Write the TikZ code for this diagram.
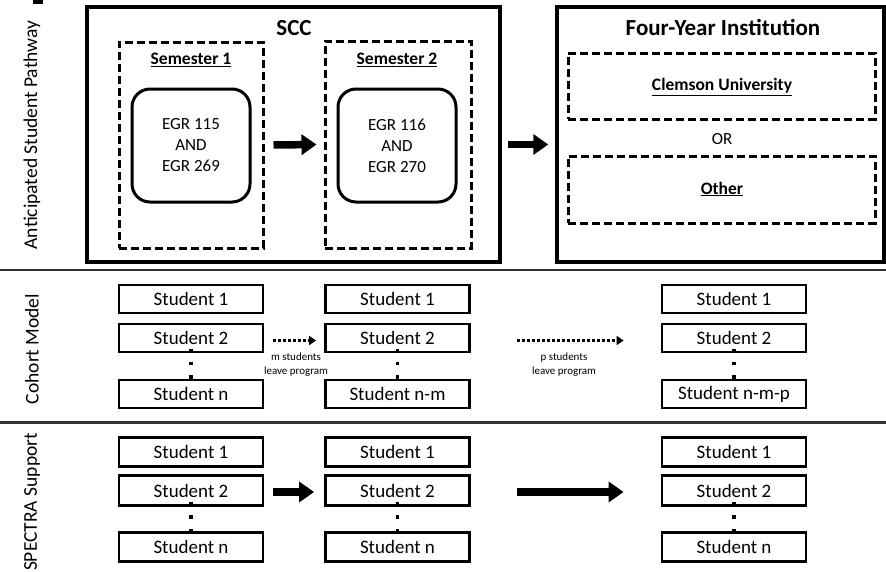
\documentclass[tikz,border=0pt]{standalone}
\usepackage{fontspec}
\setmainfont{Carlito}
\usetikzlibrary{arrows.meta,calc}
\newcommand{\sqdots}{\vbox{\hbox{\rule{3.2pt}{3.2pt}}\vskip1.4pt\hbox{\rule{3.2pt}{3.2pt}}\vskip1.4pt\hbox{\rule{3.2pt}{3.2pt}}}}
\begin{document}
\begin{tikzpicture}[x=1pt,y=-1pt,
  outerbox/.style={draw, line width=3.5pt, inner sep=0pt},
  dashbox/.style={draw, line width=3pt, dash pattern=on 8pt off 4pt, inner sep=0pt},
  roundbox/.style={draw, line width=3pt, rounded corners=18pt, inner sep=0pt, align=center,
    font=\fontsize{17}{21}\selectfont},
  titlefont/.style={font=\fontsize{23}{27}\selectfont\bfseries, inner sep=0pt},
  subfont/.style={font=\fontsize{17.5}{21}\selectfont\bfseries, inner sep=0pt},
  plainfont/.style={font=\fontsize{17}{21}\selectfont, inner sep=0pt},
  rowlabel/.style={font=\fontsize{19.5}{23}\selectfont, rotate=90, inner sep=0pt},
  stud/.style={draw, line width=2.8pt, minimum width=144pt, minimum height=28pt, inner sep=0pt,
    font=\fontsize{19}{23}\selectfont},
  studb/.style={stud, minimum height=29.5pt},
  vdot/.style={inner sep=0pt},
  smalllab/.style={font=\fontsize{11}{14}\selectfont, align=center, inner sep=0pt},
  bigarrow/.style={line width=7.5pt, -{Triangle[length=15pt,width=20pt]}},
  dotarrow/.style={line width=3pt, dash pattern=on 3pt off 2pt, -{Triangle[length=7pt,width=9pt]}},
  sepline/.style={line width=2.2pt, draw=black!80}
]
\useasboundingbox (0,0) rectangle (886,571);
\fill (33,0) rectangle (43,3.5);

% row labels
\node[rowlabel] (l1) at (32,135) {Anticipated Student Pathway};
\node[rowlabel] (l2) at (32,349) {Cohort Model};
\node[rowlabel] (l3) at (32,502) {SPECTRA Support};

% separators
\draw[sepline] (0,270) -- (886,270);
\draw[sepline] (0,422.5) -- (886,422.5);

% SCC
\node[outerbox, minimum width=413pt, minimum height=255pt] (scc) at (293.5,134.5) {};
\node[titlefont] (scct) at (294,28) {SCC};
\node[dashbox, minimum width=144pt, minimum height=206pt] (sem1) at (191,145) {};
\node[subfont] (sem1t) at (191,60) {\underline{Semester 1}};
\node[roundbox, minimum width=118pt, minimum height=113pt] (c1) at (191,145.5) {EGR 115\\AND\\EGR 269};
\node[dashbox, minimum width=146pt, minimum height=207pt] (sem2) at (398,144.5) {};
\node[subfont] (sem2t) at (397,60) {\underline{Semester 2}};
\node[roundbox, minimum width=118pt, minimum height=113pt] (c2) at (397,145.5) {EGR 116\\AND\\EGR 270};

% Four-year
\node[outerbox, minimum width=327pt, minimum height=255pt] (four) at (720.5,134.5) {};
\node[titlefont] (fourt) at (723,27) {Four-Year Institution};
\node[dashbox, minimum width=307pt, minimum height=66pt] (clem) at (721.5,86) {};
\node[subfont] (clemt) at (722,87) {\underline{Clemson University}};
\node[plainfont] (or) at (722,139) {OR};
\node[dashbox, minimum width=307pt, minimum height=67pt] (oth) at (721.5,189.5) {};
\node[subfont] (otht) at (722,189) {\underline{Other}};

% pathway arrows
\draw[bigarrow] ($(sem1.east)+(9,0)$) -- ($(sem2.west)+(-7,0)$);
\coordinate (a2s) at ($(scc.east |- sem2.center)+(6,0)$);
\coordinate (a2e) at ($(four.west |- sem2.center)+(-7,0)$);
\draw[bigarrow] (a2s) -- (a2e);

% Cohort model
\node[stud] (k11) at (191,299) {Student 1};
\node[stud] (k12) at (191,338) {Student 2};
\node[vdot] (k1d) at (191,363.5) {\sqdots};
\node[stud] (k1n) at (191,394) {Student n};
\node[stud] (k21) at (397.5,299) {Student 1};
\node[stud] (k22) at (397.5,338) {Student 2};
\node[vdot] (k2d) at (397.5,363.5) {\sqdots};
\node[stud] (k2n) at (397.5,394) {Student n-m};
\node[stud] (k31) at (734,299) {Student 1};
\node[stud] (k32) at (734,338) {Student 2};
\node[vdot] (k3d) at (734,363.5) {\sqdots};
\node[stud] (k3n) at (734,394) {Student n-m-p};

\draw[dotarrow] ($(k12.east)+(9,2.5)$) -- ($(k22.west)+(-8,2.5)$);
\draw[dotarrow] ($(k22.east)+(46,2.5)$) -- ($(k32.west)+(-37,2.5)$);
\node[smalllab] (ml) at (296,365) {m students\\leave program};
\node[smalllab] (pl) at (564,365) {p students\\leave program};

% SPECTRA
\node[studb] (s11) at (191,452) {Student 1};
\node[studb] (s12) at (191,490.5) {Student 2};
\node[vdot] (s1d) at (191,517) {\sqdots};
\node[studb] (s1n) at (191,547) {Student n};
\node[studb] (s21) at (397.5,452) {Student 1};
\node[studb] (s22) at (397.5,490.5) {Student 2};
\node[vdot] (s2d) at (397.5,517) {\sqdots};
\node[studb] (s2n) at (397.5,547) {Student n};
\node[studb] (s31) at (734,452) {Student 1};
\node[studb] (s32) at (734,490.5) {Student 2};
\node[vdot] (s3d) at (734,517) {\sqdots};
\node[studb] (s3n) at (734,547) {Student n};

\draw[bigarrow] ($(s12.east)+(9,1.5)$) -- ($(s22.west)+(-10,1.5)$);
\draw[bigarrow] ($(s22.east)+(46,1.5)$) -- ($(s32.west)+(-37,1.5)$);
\end{tikzpicture}
\end{document}
